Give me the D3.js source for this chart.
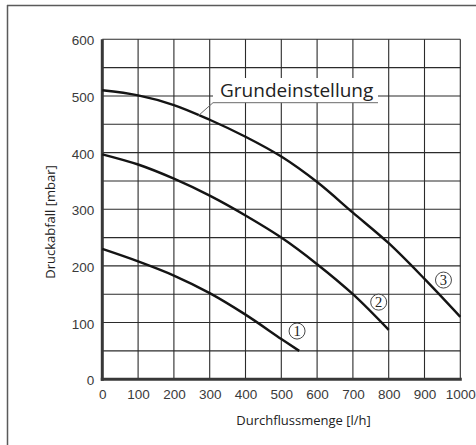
<!DOCTYPE html>
<html>
<head>
<meta charset="utf-8">
<script src="https://cdn.jsdelivr.net/npm/d3@7"></script>
<style>
  html, body { margin: 0; padding: 0; background: #fff; }
  svg { display: block; }
</style>
</head>
<body>
<script>
// Pump curves: flow rate [l/h] vs. pressure drop [mbar]
const flowTicks = [0, 100, 200, 300, 400, 500, 600, 700, 800, 900, 1000];
const pressureTicks = [0, 100, 200, 300, 400, 500, 600];
const pressureGrid = [0, 50, 100, 150, 200, 250, 300, 350, 400, 450, 500, 550, 600];

const curve1Flow = [0, 100, 200, 300, 400, 500, 550];
const curve1Drop = [230, 208, 183, 152, 114, 71, 50];

const curve2Flow = [0, 100, 200, 300, 400, 500, 600, 700, 800];
const curve2Drop = [397, 379, 354, 324, 289, 250, 203, 150, 87];

const curve3Flow = [0, 100, 200, 300, 400, 500, 600, 700, 800, 900, 1000];
const curve3Drop = [510, 501, 484, 458, 428, 393, 348, 294, 240, 177, 110];

const curveLabels = ["1", "2", "3"];
const labelFlow = [544, 772, 953];
const labelDrop = [85, 136, 175];

const xTitle = "Durchflussmenge [l/h]";
const yTitle = "Druckabfall [mbar]";
const defaultLabel = "Grundeinstellung";

const W = 476, H = 445;
const svg = d3.select("body").append("svg").attr("width", W).attr("height", H);

// outer frame (top and left edges)
svg.append("line").attr("x1", 7).attr("x2", W).attr("y1", 5.5).attr("y2", 5.5)
  .attr("stroke", "#5a5a5a").attr("stroke-width", 1.5);
svg.append("line").attr("x1", 7.5).attr("x2", 7.5).attr("y1", 5).attr("y2", H)
  .attr("stroke", "#5a5a5a").attr("stroke-width", 1.5);

const x = d3.scaleLinear().domain([0, 1000]).range([102.3, 460.3]);
const y = d3.scaleLinear().domain([0, 600]).range([379.2, 39.3]);

// grid
const grid = svg.append("g").attr("stroke", "#2b2b2b").attr("stroke-width", 1.1);
grid.selectAll("line.v").data(flowTicks.slice(1)).join("line")
  .attr("x1", d => x(d)).attr("x2", d => x(d)).attr("y1", y(600)).attr("y2", y(0));
grid.selectAll("line.h").data(pressureGrid.slice(1)).join("line")
  .attr("x1", x(0)).attr("x2", x(1000)).attr("y1", d => y(d)).attr("y2", d => y(d));

// axes
const xAxis = d3.axisBottom(x).tickValues(flowTicks).tickFormat(d3.format("d")).tickSize(0).tickPadding(10);
const yAxis = d3.axisLeft(y).tickValues(pressureTicks).tickFormat(d3.format("d")).tickSize(0).tickPadding(8);

const gx = svg.append("g").attr("transform", `translate(0,${y(0)})`).call(xAxis);
const gy = svg.append("g").attr("transform", `translate(${x(0)},0)`).call(yAxis);
[gx, gy].forEach(g => {
  g.select(".domain").remove();
  g.selectAll("text").attr("font-family", "'Liberation Sans', Arial, sans-serif")
    .attr("font-size", 13.5).attr("fill", "#3a3a3a");
});
gy.selectAll("text").attr("dy", "0.42em");

svg.append("line").attr("x1", x(0)).attr("x2", x(0)).attr("y1", y(600)).attr("y2", y(0) + 1.5)
  .attr("stroke", "#383838").attr("stroke-width", 3);
svg.append("line").attr("x1", x(0) - 1.5).attr("x2", x(1000) + 1.5).attr("y1", y(0)).attr("y2", y(0))
  .attr("stroke", "#383838").attr("stroke-width", 3);

// curves
const line = d3.line().x(d => x(d[0])).y(d => y(d[1])).curve(d3.curveCatmullRom.alpha(0.5));
const series = [
  d3.zip(curve1Flow, curve1Drop),
  d3.zip(curve2Flow, curve2Drop),
  d3.zip(curve3Flow, curve3Drop)
];
svg.append("g").selectAll("path").data(series).join("path")
  .attr("d", line).attr("fill", "none").attr("stroke", "#141414").attr("stroke-width", 2.4);

// circled curve numbers
const lab = svg.append("g").selectAll("g").data(curveLabels).join("g")
  .attr("transform", (d, i) => `translate(${x(labelFlow[i])},${y(labelDrop[i])})`);
lab.append("circle").attr("r", 8).attr("fill", "#fff").attr("stroke", "#333").attr("stroke-width", 0.9);
lab.append("text").text(d => d).attr("text-anchor", "middle").attr("dy", "0.35em")
  .attr("font-family", "'Liberation Serif', 'Times New Roman', serif").attr("font-size", 14.5)
  .attr("fill", "#222");

// default setting callout
const boxX0 = 213, boxX1 = 378, boxY0 = 78, boxY1 = 102.7;
svg.append("rect").attr("x", boxX0).attr("y", boxY0).attr("width", boxX1 - boxX0)
  .attr("height", boxY1 - boxY0).attr("fill", "#fff");
svg.append("text").attr("x", 220).attr("y", 96.7).text(defaultLabel)
  .attr("font-family", "'Open Sans', sans-serif").attr("font-size", 19).attr("fill", "#222");
svg.append("polyline")
  .attr("points", `${boxX1},${boxY1} ${boxX0},${boxY1} ${x(268)},${y(465)}`)
  .attr("fill", "none").attr("stroke", "#6a6a6a").attr("stroke-width", 1);

// axis titles
svg.append("text").attr("x", 303.5).attr("y", 425).attr("text-anchor", "middle").text(xTitle)
  .attr("font-family", "'Open Sans', sans-serif").attr("font-size", 13).attr("fill", "#222");
svg.append("text").attr("transform", "translate(55,222) rotate(-90)").attr("text-anchor", "middle")
  .text(yTitle).attr("font-family", "'Open Sans', sans-serif").attr("font-size", 13).attr("fill", "#222");
</script>
</body>
</html>
